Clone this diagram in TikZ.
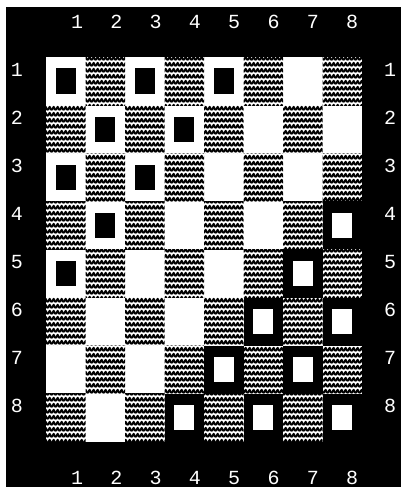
\documentclass[tikz,border=0pt]{standalone}
\usepackage{fontspec}
\setmonofont{Liberation Mono}
\usetikzlibrary{positioning,patterns.meta}

\tikzdeclarepattern{
  name=knit,
  type=uncolored,
  bounding box={(0pt,0pt) and (4pt,6.2pt)},
  tile size={(4pt,6.2pt)},
  code={
    \draw[line width=2.5pt, line cap=round, line join=round]
      (0pt,1.5pt) -- (2pt,4.5pt) -- (4pt,1.5pt);
  }
}

\begin{document}
\begin{tikzpicture}[x=1pt, y=-1pt,
  font=\ttfamily\fontsize{20}{20}\selectfont,
  lbl/.style={text=white, inner sep=0pt},
  graysq/.style={pattern={knit}, pattern color=black},
  blackman/.style={fill=black, minimum width=20pt, minimum height=25pt, inner sep=0pt},
  whiteman/.style={fill=white, minimum width=20pt, minimum height=25pt, inner sep=0pt}]
% paper and frame
\fill[white] (0,0) rectangle (401,487);
\useasboundingbox (0,0) rectangle (401,487);
\fill[black] (6,7) rectangle (401,487);
% squares
\fill[white] (46,57) rectangle (362,442);
\foreach \r in {1,...,8}
  \foreach \c in {1,...,8} {
    \ifodd\numexpr\r+\c\relax
      \fill[graysq] ({46+39.5*(\c-1)},{57+48.1*(\r-1)}) rectangle ++(39.5,48.1);
    \fi
  }
% black men
\foreach \r/\c in {1/1,1/3,1/5,2/2,2/4,3/1,3/3,4/2,5/1}
  \node[blackman] (b\r\c) at ({65.75+39.5*(\c-1)},{81+48.1*(\r-1)}) {};
% white men, each on a black square
\foreach \r/\c in {4/8,5/7,6/6,6/8,7/5,7/7,8/4,8/6,8/8} {
  \fill[black] ({46+39.5*(\c-1)},{57+48.1*(\r-1)}) rectangle ++(39.5,48.1);
  \node[whiteman] (w\r\c) at ({65.75+39.5*(\c-1)},{81+48.1*(\r-1)}) {};
}
% column and row numbers
\foreach \i in {1,...,8} {
  \node[lbl] (top\i) at ({77+39.3*(\i-1)},22) {\i};
  \node[lbl] (bot\i) at ({77+39.3*(\i-1)},478) {\i};
  \node[lbl] (left\i) at (17,{70+48*(\i-1)}) {\i};
  \node[lbl] (right\i) at (390,{70+48*(\i-1)}) {\i};
}
\end{tikzpicture}
\end{document}
